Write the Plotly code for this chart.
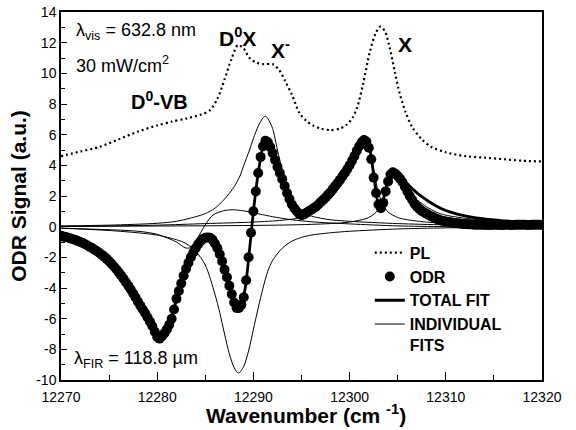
import numpy as np
import plotly.graph_objects as go

# ---------------- data ----------------
pl_x = [12270, 12272, 12274, 12276, 12278, 12280, 12281.5, 12283, 12284.5, 12285.5,
        12286.3, 12287, 12287.7, 12288.4, 12289, 12289.6, 12290.3, 12291, 12292, 12292.7,
        12293.3, 12294, 12294.8, 12295.5, 12296.2, 12297, 12298, 12299, 12299.7, 12300.3,
        12300.8, 12301.4, 12302.1, 12302.7, 12303.2, 12303.7, 12304.2, 12304.7, 12305.2, 12305.8,
        12306.5, 12307.5, 12308.5, 12310, 12312, 12314, 12316, 12318, 12320]
pl_y = [4.6, 4.9, 5.2, 5.7, 6.2, 6.6, 6.85, 7.05, 7.3, 7.6,
        8.4, 9.6, 10.9, 11.85, 11.6, 11.0, 10.7, 10.6, 10.6, 10.2,
        9.5, 8.6, 7.4, 6.9, 6.6, 6.4, 6.3, 6.4, 6.65, 7.1,
        7.8, 9.3, 11.4, 12.6, 13.05, 12.7, 11.6, 10.1, 8.7, 7.5,
        6.5, 5.7, 5.2, 4.85, 4.6, 4.5, 4.4, 4.3, 4.25]

odr_x = np.arange(12270, 12320.001, 0.25)
odr_y = [
    -0.60, -0.64, -0.68, -0.72, -0.77, -0.82, -0.87, -0.93,
    -1.00, -1.07, -1.15, -1.23, -1.32, -1.41, -1.50, -1.60,
    -1.72, -1.84, -1.96, -2.10, -2.25, -2.42, -2.60, -2.78,
    -2.98, -3.18, -3.40, -3.62, -3.86, -4.10, -4.36, -4.62,
    -4.90, -5.15, -5.40, -5.65, -5.92, -6.20, -6.50, -6.85,
    -7.20, -7.30, -7.15, -6.95, -6.70, -6.40, -6.00, -5.40,
    -4.70, -4.20, -3.70, -3.20, -2.75, -2.35, -2.00, -1.68,
    -1.40, -1.15, -0.95, -0.80, -0.72, -0.70, -0.72, -0.85,
    -1.10, -1.40, -1.80, -2.25, -2.80, -3.30, -3.85, -4.40,
    -4.95, -5.30, -5.30, -5.10, -4.60, -3.50, -2.00, -0.40,
    1.00, 2.30, 3.50, 4.55, 5.25, 5.60, 5.50, 5.20,
    4.80, 4.35, 3.90, 3.50, 3.10, 2.65, 2.20, 1.80,
    1.45, 1.20, 1.00, 0.85, 0.75, 0.80, 0.90, 1.00,
    1.10, 1.20, 1.30, 1.45, 1.60, 1.75, 1.90, 2.08,
    2.25, 2.45, 2.65, 2.85, 3.05, 3.28, 3.50, 3.75,
    4.00, 4.30, 4.60, 4.95, 5.25, 5.50, 5.65, 5.55,
    5.15, 4.40, 3.20, 2.20, 1.45, 1.20, 1.55, 2.30,
    2.95, 3.40, 3.55, 3.45, 3.30, 3.12, 2.90, 2.60,
    2.30, 2.00, 1.75, 1.50, 1.30, 1.15, 1.03, 0.93,
    0.84, 0.75, 0.67, 0.60, 0.52, 0.46, 0.41, 0.37,
    0.33, 0.30, 0.28, 0.26, 0.24, 0.22, 0.20, 0.18,
    0.17, 0.16, 0.15, 0.14, 0.13, 0.12, 0.12, 0.12,
    0.12, 0.11, 0.11, 0.11, 0.12, 0.12, 0.11, 0.11,
    0.11, 0.12, 0.12, 0.11, 0.11, 0.12, 0.12, 0.12,
    0.12, 0.12, 0.11, 0.11, 0.12, 0.12, 0.12, 0.12,
    0.12]

tf_x = [12270, 12272, 12274, 12276, 12278, 12279, 12280, 12280.4, 12281, 12281.5,
        12282, 12283, 12284, 12285, 12285.4, 12286, 12287, 12288, 12288.4, 12288.8,
        12289.2, 12289.6, 12290, 12290.5, 12291, 12291.3, 12291.6, 12292, 12293, 12294,
        12294.5, 12295, 12295.5, 12296, 12297, 12298, 12299, 12300, 12301, 12301.6,
        12302, 12302.5, 12302.8, 12303.1, 12303.4, 12303.8, 12304.3, 12304.6, 12305, 12306,
        12307, 12308, 12309, 12310, 12311, 12312, 12314, 12316, 12318, 12320]
tf_y = [-0.6, -1.0, -1.72, -2.98, -4.9, -5.92, -7.2, -7.25, -6.7, -6.0,
        -4.7, -2.75, -1.4, -0.72, -0.70, -1.1, -2.8, -4.95, -5.35, -5.0,
        -3.8, -1.5, 1.0, 3.5, 5.25, 5.62, 5.45, 4.8, 3.1, 1.45,
        1.0, 0.75, 0.88, 1.1, 1.6, 2.25, 3.05, 4.0, 5.3, 5.8,
        5.35, 3.4, 2.0, 1.15, 1.5, 2.6, 3.55, 3.7, 3.6, 2.8,
        2.2, 1.74, 1.35, 1.05, 0.85, 0.7, 0.5, 0.38, 0.3, 0.25]

# individual fits
fa_x = [12270, 12275, 12280, 12282, 12284, 12285, 12286, 12287, 12288, 12288.6,
        12289, 12289.6, 12290, 12290.5, 12291, 12291.25, 12291.5, 12292, 12292.5, 12293,
        12293.5, 12294, 12294.5, 12295, 12296, 12297, 12298, 12300, 12305, 12310, 12320]
fa_y = [0.05, 0.1, 0.22, 0.35, 0.65, 0.85, 1.2, 1.8, 2.6, 3.3,
        4.0, 5.0, 5.75, 6.55, 7.1, 7.2, 7.05, 6.4, 5.0, 3.7,
        2.6, 1.85, 1.35, 1.0, 0.7, 0.55, 0.45, 0.35, 0.2, 0.12, 0.05]

fb_x = [12270, 12275, 12278, 12280, 12282, 12283, 12284, 12285, 12286, 12286.5,
        12287, 12287.5, 12288, 12288.45, 12289, 12289.5, 12290, 12290.5, 12291, 12291.5,
        12292, 12293, 12294, 12295, 12296, 12298, 12300, 12305, 12310, 12320]
fb_y = [-0.1, -0.25, -0.4, -0.55, -0.85, -1.1, -1.6, -2.5, -4.4, -5.6,
        -7.0, -8.3, -9.2, -9.55, -9.1, -8.1, -6.7, -5.3, -4.0, -2.9,
        -2.2, -1.4, -0.95, -0.7, -0.55, -0.4, -0.3, -0.15, -0.08, -0.02]

fc_x = [12270, 12278, 12280, 12282, 12283, 12283.7, 12284.3, 12284.6, 12285.1, 12285.8,
        12286.9, 12287.9, 12289, 12290, 12292, 12294, 12296, 12300, 12305, 12310, 12320]
fc_y = [-0.1, -0.3, -0.5, -1.0, -1.4, -1.3, -0.65, -0.3, 0.22, 0.76,
        1.04, 1.1, 1.03, 0.91, 0.65, 0.45, 0.32, 0.18, 0.05, 0.0, -0.05]

fd_x = [12270, 12280, 12285, 12290, 12293, 12295, 12296, 12297, 12298, 12299,
        12300, 12300.5, 12301, 12301.5, 12301.8, 12302.2, 12302.6, 12303, 12303.5, 12304,
        12305, 12306, 12308, 12310, 12315, 12320]
fd_y = [0.0, 0.1, 0.2, 0.3, 0.42, 0.6, 0.85, 1.25, 1.8, 2.6,
        3.6, 4.2, 4.9, 5.4, 5.5, 4.8, 3.4, 2.2, 1.4, 0.95,
        0.6, 0.45, 0.3, 0.22, 0.12, 0.08]

ff_x = [12270, 12290, 12296, 12300, 12302, 12303, 12303.5, 12304, 12304.5, 12305,
        12305.5, 12306, 12307, 12308, 12309, 12310, 12312, 12315, 12320]
ff_y = [0.02, 0.08, 0.15, 0.3, 0.6, 1.1, 1.8, 2.9, 3.4, 3.3,
        2.9, 2.4, 1.75, 1.3, 0.95, 0.75, 0.55, 0.38, 0.22]

y_ticks = [-10, -8, -6, -4, -2, 0, 2, 4, 6, 8, 10, 12, 14]
y_ticktext = ["-10", "-8", "-6", "-4", "-2", "0", "2", "4", "6", "8", "10", "12", "14"]
x_ticks = [12270, 12280, 12290, 12300, 12310, 12320]
x_ticktext = ["12270", "12280", "12290", "12300", "12310", "12320"]

FONT = "Arial, Liberation Sans, sans-serif"

# ---------------- figure ----------------
fig = go.Figure()

fig.add_trace(go.Scatter(x=pl_x, y=pl_y, mode="lines", name="<b>PL</b>",
                         line=dict(color="black", width=2.2, dash="2px,3px", shape="spline", smoothing=0.8),
                         legendgroup="g1"))
fig.add_trace(go.Scatter(x=odr_x, y=odr_y, mode="markers", name="<b>ODR</b>",
                         marker=dict(color="black", size=10), legendgroup="g2"))
fig.add_trace(go.Scatter(x=tf_x, y=tf_y, mode="lines", name="<b>TOTAL FIT</b>",
                         line=dict(color="black", width=2.8, shape="spline", smoothing=0.6),
                         legendgroup="g3"))
fits = [(fa_x, fa_y), (fb_x, fb_y), (fc_x, fc_y), (fd_x, fd_y), (ff_x, ff_y)]
for i, (fx, fy) in enumerate(fits):
    fig.add_trace(go.Scatter(x=fx, y=fy, mode="lines", name="<b>INDIVIDUAL<br>FITS</b>",
                             line=dict(color="black", width=1, shape="spline", smoothing=0.8),
                             showlegend=(i == 0), legendgroup="g4"))

annots = [
    dict(x=12271.4, y=12.7, text="λ<sub>vis</sub> = 632.8 nm", size=18),
    dict(x=12271.4, y=10.6, text="30 mW/cm<sup>2</sup>", size=18),
    dict(x=12277.1, y=8.2, text="<b>D<sup>0</sup>-VB</b>", size=20),
    dict(x=12286.2, y=12.35, text="<b>D<sup>0</sup>X</b>", size=21),
    dict(x=12291.6, y=11.6, text="<b>X<sup>-</sup></b>", size=21),
    dict(x=12304.8, y=11.9, text="<b>X</b>", size=21),
    dict(x=12271.1, y=-8.65, text="λ<sub>FIR</sub> = 118.8 µm", size=18),
]
for a in annots:
    fig.add_annotation(x=a["x"], y=a["y"], xref="x", yref="y", text=a["text"],
                       showarrow=False, xanchor="left", yanchor="middle",
                       font=dict(family=FONT, size=a["size"], color="black"))

# axis titles
fig.add_annotation(x=0.509, y=-0.093, xref="paper", yref="paper",
                   text="<b>Wavenumber (cm <sup>-1</sup>)</b>", showarrow=False,
                   xanchor="center", yanchor="middle",
                   font=dict(family=FONT, size=21, color="black"))
fig.add_annotation(x=-0.09, y=0.5, xref="paper", yref="paper",
                   text="<b>ODR Signal (a.u.)</b>", showarrow=False, textangle=-90,
                   xanchor="center", yanchor="middle",
                   font=dict(family=FONT, size=21, color="black"))

fig.update_layout(
    width=576, height=430,
    margin=dict(l=61, r=34, t=12, b=50, autoexpand=False),
    paper_bgcolor="white", plot_bgcolor="white",
    font=dict(family=FONT, size=14, color="black"),
    showlegend=True,
    legend=dict(x=0.642, y=0.392, xanchor="left", yanchor="top",
                bgcolor="rgba(0,0,0,0)", traceorder="grouped", tracegroupgap=0,
                valign="top", font=dict(family=FONT, size=16, color="black")),
)
fig.update_xaxes(range=[12270, 12320], tickvals=x_ticks, ticktext=x_ticktext, ticks="inside",
                 ticklen=8, tickwidth=1.2, tickcolor="black", showline=True, linecolor="black",
                 linewidth=1.5, mirror=True, showgrid=False, zeroline=False, automargin=False,
                 ticklabelstandoff=3,
                 minor=dict(dtick=5, tick0=12270, ticks="inside", ticklen=5, tickcolor="black"),
                 tickfont=dict(family=FONT, size=14))
fig.update_yaxes(range=[-10, 14], tickvals=y_ticks, ticktext=y_ticktext, ticks="inside",
                 ticklen=6, tickwidth=1.2, tickcolor="black", showline=True, linecolor="black",
                 linewidth=1.5, mirror=True, showgrid=False, zeroline=False, automargin=False,
                 minor=dict(dtick=1, tick0=0, ticks="inside", ticklen=4, tickcolor="black"),
                 tickfont=dict(family=FONT, size=14))

fig.write_html("out.html", config={"displayModeBar": False},
               post_script="document.body.style.margin='0';document.body.style.overflow='hidden';")
